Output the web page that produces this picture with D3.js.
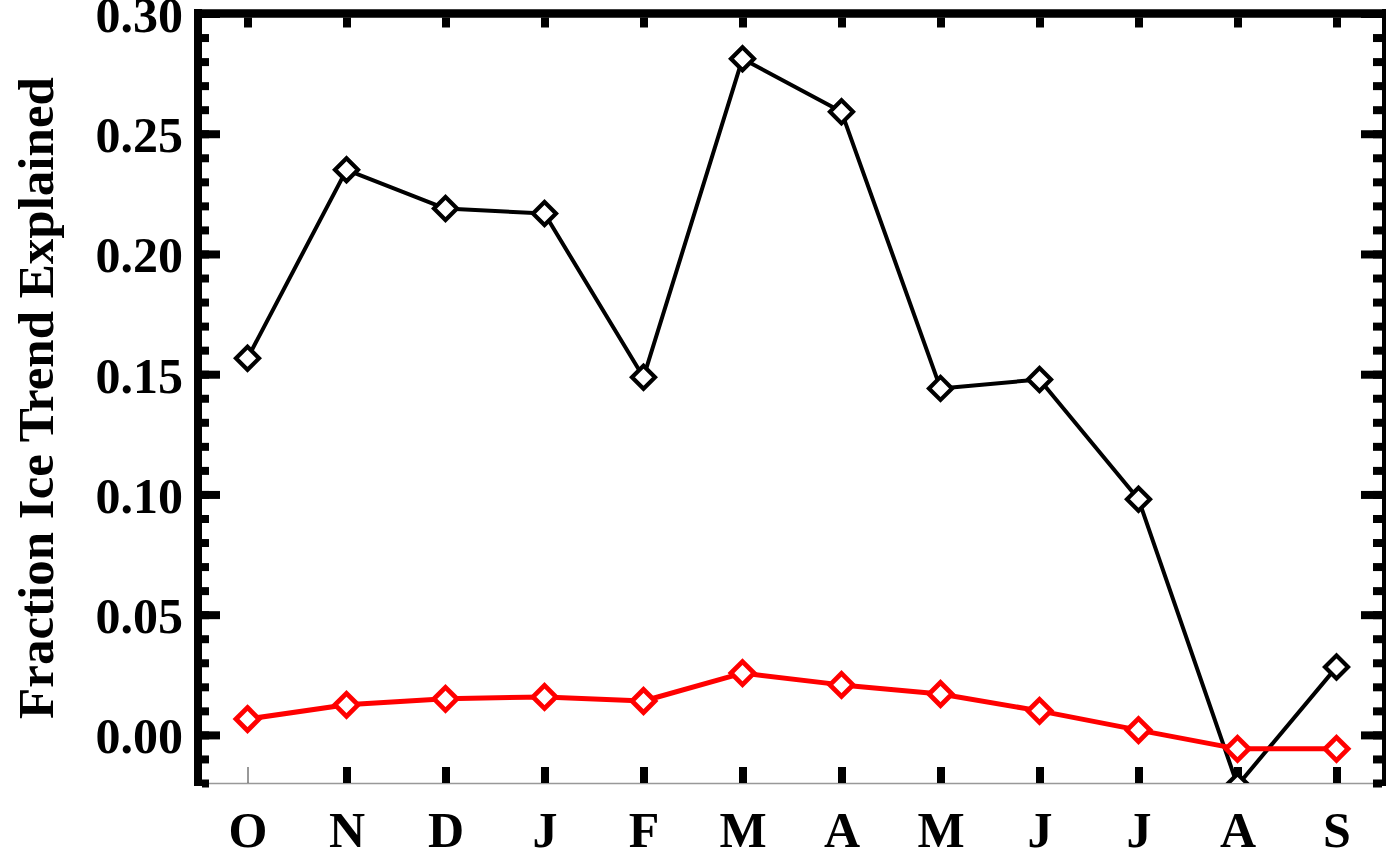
<!DOCTYPE html>
<html>
<head>
<meta charset="utf-8">
<script src="https://cdn.jsdelivr.net/npm/d3@7"></script>
<style>
html,body{margin:0;padding:0;background:#fff;}
svg{display:block;}
text{font-family:"Liberation Serif","Times New Roman",serif;font-weight:bold;fill:#000;}
</style>
</head>
<body>
<script>
const months = ["O","N","D","J","F","M","A","M","J","J","A","S"];
const blackSeries = [0.1566,0.2350,0.2189,0.2168,0.1487,0.2812,0.2591,0.1441,0.1478,0.0980,-0.0210,0.0282];
const redSeries = [0.0066,0.0125,0.0150,0.0158,0.0141,0.0257,0.0208,0.0170,0.0100,0.0020,-0.0058,-0.0058];
const majorTicks = [0.00,0.05,0.10,0.15,0.20,0.25,0.30];
const minorTicks = d3.range(-2,31).map(d=>d/100);
const yLabel = "Fraction Ice Trend Explained";

const W=1386,H=851;
const L=198,R=1386,T=13.5,B=783;
const svg=d3.select("body").append("svg").attr("width",W).attr("height",H);

const x=d3.scaleLinear().domain([-0.5,11.5]).range([L,R]);
const y=d3.scaleLinear().domain([-0.02,0.30]).range([B,T]);

svg.append("defs").append("clipPath").attr("id","clip")
  .append("rect").attr("x",L).attr("y",T).attr("width",R-L).attr("height",B-T);

// bottom thin axis line
svg.append("line").attr("x1",L).attr("x2",R).attr("y1",B+0.5).attr("y2",B+0.5)
  .attr("stroke","#999").attr("stroke-width",1.5);

function styleTicks(g,w){g.select(".domain").remove();g.selectAll(".tick line").attr("stroke","#000").attr("stroke-width",w);g.selectAll(".tick text").remove();}
// left inward ticks
svg.append("g").attr("transform",`translate(${L+4},0)`)
  .call(d3.axisRight(y).tickValues(minorTicks).tickSize(7).tickFormat(""))
  .call(g=>styleTicks(g,8));
svg.append("g").attr("transform",`translate(${L+4},0)`)
  .call(d3.axisRight(y).tickValues(majorTicks).tickSize(18).tickFormat(""))
  .call(g=>styleTicks(g,8));
// right inward ticks
svg.append("g").attr("transform",`translate(${R-4},0)`)
  .call(d3.axisLeft(y).tickValues(minorTicks).tickSize(9).tickFormat(""))
  .call(g=>styleTicks(g,8));
svg.append("g").attr("transform",`translate(${R-4},0)`)
  .call(d3.axisLeft(y).tickValues(majorTicks).tickSize(21).tickFormat(""))
  .call(g=>styleTicks(g,8));
// y tick labels
svg.append("g").attr("transform",`translate(${L-4},0)`)
  .call(d3.axisLeft(y).tickValues(majorTicks).tickSize(0).tickPadding(11).tickFormat(d3.format(".2f")))
  .call(g=>{g.select(".domain").remove();g.selectAll("text").attr("font-size",50).attr("dy","0.36em")
    .style("font-family","'Liberation Serif',serif").style("font-weight","bold");});

// top ticks
const idx=d3.range(months.length);
svg.append("g").attr("transform",`translate(0,${T+4})`)
  .call(d3.axisBottom(x).tickValues(idx).tickSize(10).tickFormat(""))
  .call(g=>styleTicks(g,8));
// bottom ticks
svg.append("g").attr("transform",`translate(0,${B})`)
  .call(d3.axisTop(x).tickValues(idx).tickSize(16).tickFormat(""))
  .call(g=>{styleTicks(g,8);g.selectAll(".tick line").filter(d=>d===0).attr("stroke-width",1).attr("stroke","#333");});
// x labels
svg.append("g").attr("transform",`translate(0,${B})`)
  .call(d3.axisBottom(x).tickValues(idx).tickSize(0).tickPadding(0).tickFormat(i=>months[i]))
  .call(g=>{g.select(".domain").remove();g.selectAll("text").attr("font-size",50).attr("dy",null).attr("y",64)
    .style("font-family","'Liberation Serif',serif").style("font-weight","bold");});

// frame: left, top, right thick lines
svg.append("line").attr("x1",L).attr("x2",L).attr("y1",T-4.5).attr("y2",B+3).attr("stroke","#000").attr("stroke-width",8);
svg.append("line").attr("x1",L-4).attr("x2",R+4).attr("y1",T).attr("y2",T).attr("stroke","#000").attr("stroke-width",8.5);
svg.append("line").attr("x1",R).attr("x2",R).attr("y1",T-4.5).attr("y2",B+3).attr("stroke","#000").attr("stroke-width",8);

// series
const plot=svg.append("g").attr("clip-path","url(#clip)");
const line=d3.line().x((d,i)=>x(i)).y(d=>y(d));
const diamond=d3.symbol().type(d3.symbolDiamond2).size(2*13*13);
function drawSeries(data,color,lw,mw){
  plot.append("path").datum(data).attr("d",line).attr("fill","none").attr("stroke",color).attr("stroke-width",lw).attr("stroke-linejoin","round");
  plot.selectAll(null).data(data).enter().append("path")
    .attr("d",diamond).attr("transform",(d,i)=>`translate(${x(i)},${y(d)})`)
    .attr("fill","#fff").attr("stroke",color).attr("stroke-width",mw);
}
drawSeries(blackSeries,"#000",4,4.2);
drawSeries(redSeries,"#ff0000",5,4.8);

// y label
svg.append("text").attr("transform","translate(53,398) rotate(-90)").attr("text-anchor","middle")
  .attr("font-size",51).text(yLabel);
</script>
</body>
</html>
